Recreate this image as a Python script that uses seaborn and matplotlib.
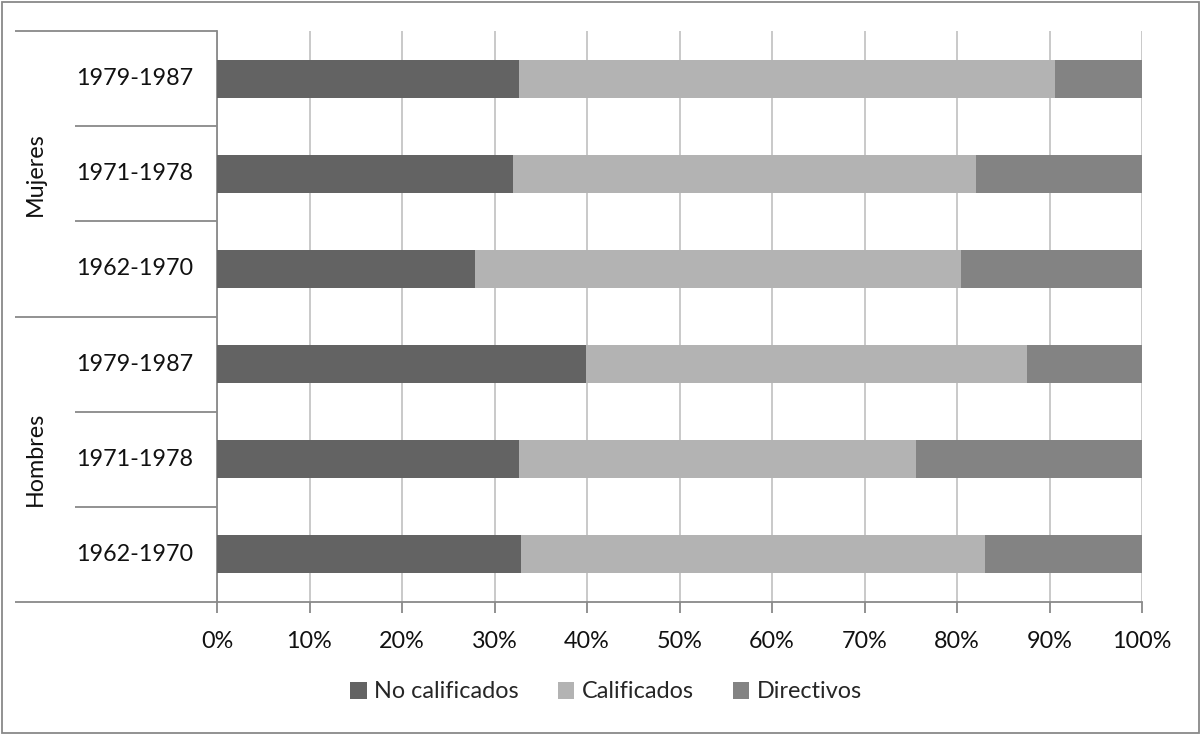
import matplotlib
matplotlib.use("Agg")
import matplotlib.pyplot as plt
import matplotlib.transforms as mtransforms
from matplotlib.patches import Patch, Rectangle
from matplotlib.ticker import FuncFormatter
import seaborn as sns
import pandas as pd
import numpy as np

# Data: share of each occupational group by sex and birth cohort (%)
groups = ["Mujeres", "Mujeres", "Mujeres", "Hombres", "Hombres", "Hombres"]
cohorts = ["1979-1987", "1971-1978", "1962-1970", "1979-1987", "1971-1978", "1962-1970"]
no_calificados = [32.7, 32.0, 27.9, 39.9, 32.7, 32.9]
calificados = [57.9, 50.1, 52.5, 47.7, 42.9, 50.1]
directivos = [9.4, 17.9, 19.6, 12.4, 24.4, 17.0]
series_names = ["No calificados", "Calificados", "Directivos"]
series_colors = ["#636363", "#b3b3b3", "#838383"]
x_ticks = [0, 10, 20, 30, 40, 50, 60, 70, 80, 90, 100]

sns.set_theme(style="white")
plt.rcParams["font.family"] = ["Lato", "DejaVu Sans"]
FS = 16.8

df = pd.DataFrame({
    "grupo": groups,
    "cohorte": cohorts,
    "No calificados": no_calificados,
    "Calificados": calificados,
    "Directivos": directivos,
})
df["cat"] = df["grupo"] + "|" + df["cohorte"]
df["c1"] = df["No calificados"]
df["c2"] = df["c1"] + df["Calificados"]
df["c3"] = df["c2"] + df["Directivos"]

fig = plt.figure(figsize=(12.01, 7.34), dpi=100)
ax = fig.add_axes([217 / 1201, 1 - 602 / 734, 925 / 1201, 571 / 734])

order = list(df["cat"])
# stacked bars drawn back to front from cumulative totals
for col, color in zip(["c3", "c2", "c1"], series_colors[::-1]):
    sns.barplot(data=df, x=col, y="cat", order=order, orient="h", color=color,
                saturation=1, width=0.4, linewidth=0, ax=ax, zorder=3)

axis_gray = "#898989"
ax.set_xlim(0, 100)
ax.set_ylim(5.5, -0.5)
ax.set_xticks(x_ticks)
ax.xaxis.set_major_formatter(FuncFormatter(lambda v, p: f"{v:.0f}%"))
ax.set_xlabel("")
ax.set_ylabel("")
ax.set_yticks([])
ax.grid(axis="x", color="#c0c0c0", linewidth=1.2, zorder=0)
ax.set_axisbelow(True)
for s in ["top", "right"]:
    ax.spines[s].set_visible(False)
for s in ["left", "bottom"]:
    ax.spines[s].set_color(axis_gray)
    ax.spines[s].set_linewidth(1.3)
ax.tick_params(axis="x", direction="out", length=8, width=1.3, color=axis_gray,
               labelsize=FS, labelcolor="#111111", pad=13, bottom=True)

# multi-level category axis on the left
trans = mtransforms.blended_transform_factory(ax.transAxes, ax.transData)
x_far = (15 - 217) / 925
x_near = (75 - 217) / 925
x_year = (135 - 217) / 925
x_group = (35 - 217) / 925

for i, c in enumerate(cohorts):
    ax.text(x_year, i, c, transform=trans, ha="center", va="center",
            fontsize=FS, color="#111111")

boundaries = np.arange(len(cohorts) + 1) - 0.5
for k, b in enumerate(boundaries):
    new_group = k == 0 or k == len(cohorts) or groups[k] != groups[k - 1]
    x0 = x_far if new_group else x_near
    ax.plot([x0, 0], [b, b], transform=trans, color=axis_gray, linewidth=1.3,
            clip_on=False, solid_capstyle="butt")

seen = []
for g in groups:
    if g not in seen:
        seen.append(g)
for g in seen:
    idx = [i for i, gg in enumerate(groups) if gg == g]
    ax.text(x_group, np.mean(idx), g, transform=trans, ha="center", va="center",
            rotation=90, fontsize=FS, color="#111111")

handles = [Patch(facecolor=c, edgecolor="none", label=n)
           for n, c in zip(series_names, series_colors)]
fig.legend(handles=handles, loc="center", bbox_to_anchor=(606 / 1201, 1 - 692 / 734),
           ncol=3, frameon=False, fontsize=FS, handlelength=0.7, handleheight=0.7,
           handletextpad=0.3, columnspacing=1.7)

fig.patches.append(Rectangle((2 / 1201, 1 / 734), 1197 / 1201, 731 / 734,
                             transform=fig.transFigure, fill=False,
                             edgecolor=axis_gray, linewidth=1.3))

fig.savefig("out.png", dpi=100, facecolor="white")
